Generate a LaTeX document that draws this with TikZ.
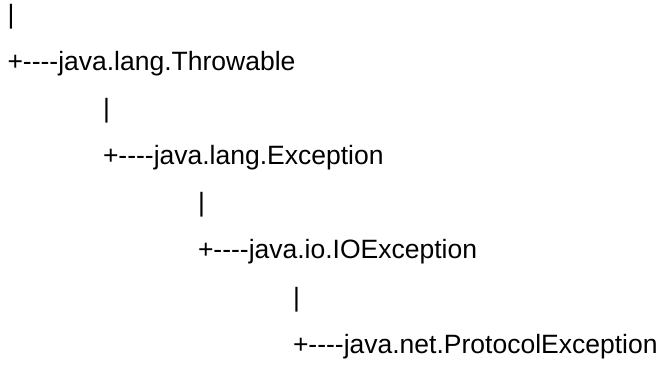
\documentclass[tikz,border=0pt]{standalone}
\usepackage{fontspec}
\setmainfont{Liberation Sans}
\newcommand\mydashes{-\kern0pt-\kern0pt-\kern0pt-}
\begin{document}
\begin{tikzpicture}[x=1pt,y=1pt,
  line/.style={anchor=base west,inner sep=0pt,outer sep=0pt,font=\fontsize{26.5}{30}\selectfont}]
\useasboundingbox (0,0) rectangle (663,364);
\node[line] (b0) at (7.5,340) {|};
\node[line] (t)  at (7.5,293) {+\mydashes java.lang.Throwable};
\node[line] (b1) at (103,246) {|};
\node[line] (e)  at (103,199) {+\mydashes java.lang.Exception};
\node[line] (b2) at (198,152) {|};
\node[line] (io) at (198,105) {+\mydashes java.io.IOException};
\node[line] (b3) at (293,58) {|};
\node[line] (p)  at (293,11) {+\mydashes java.net.ProtocolException};
\end{tikzpicture}
\end{document}
